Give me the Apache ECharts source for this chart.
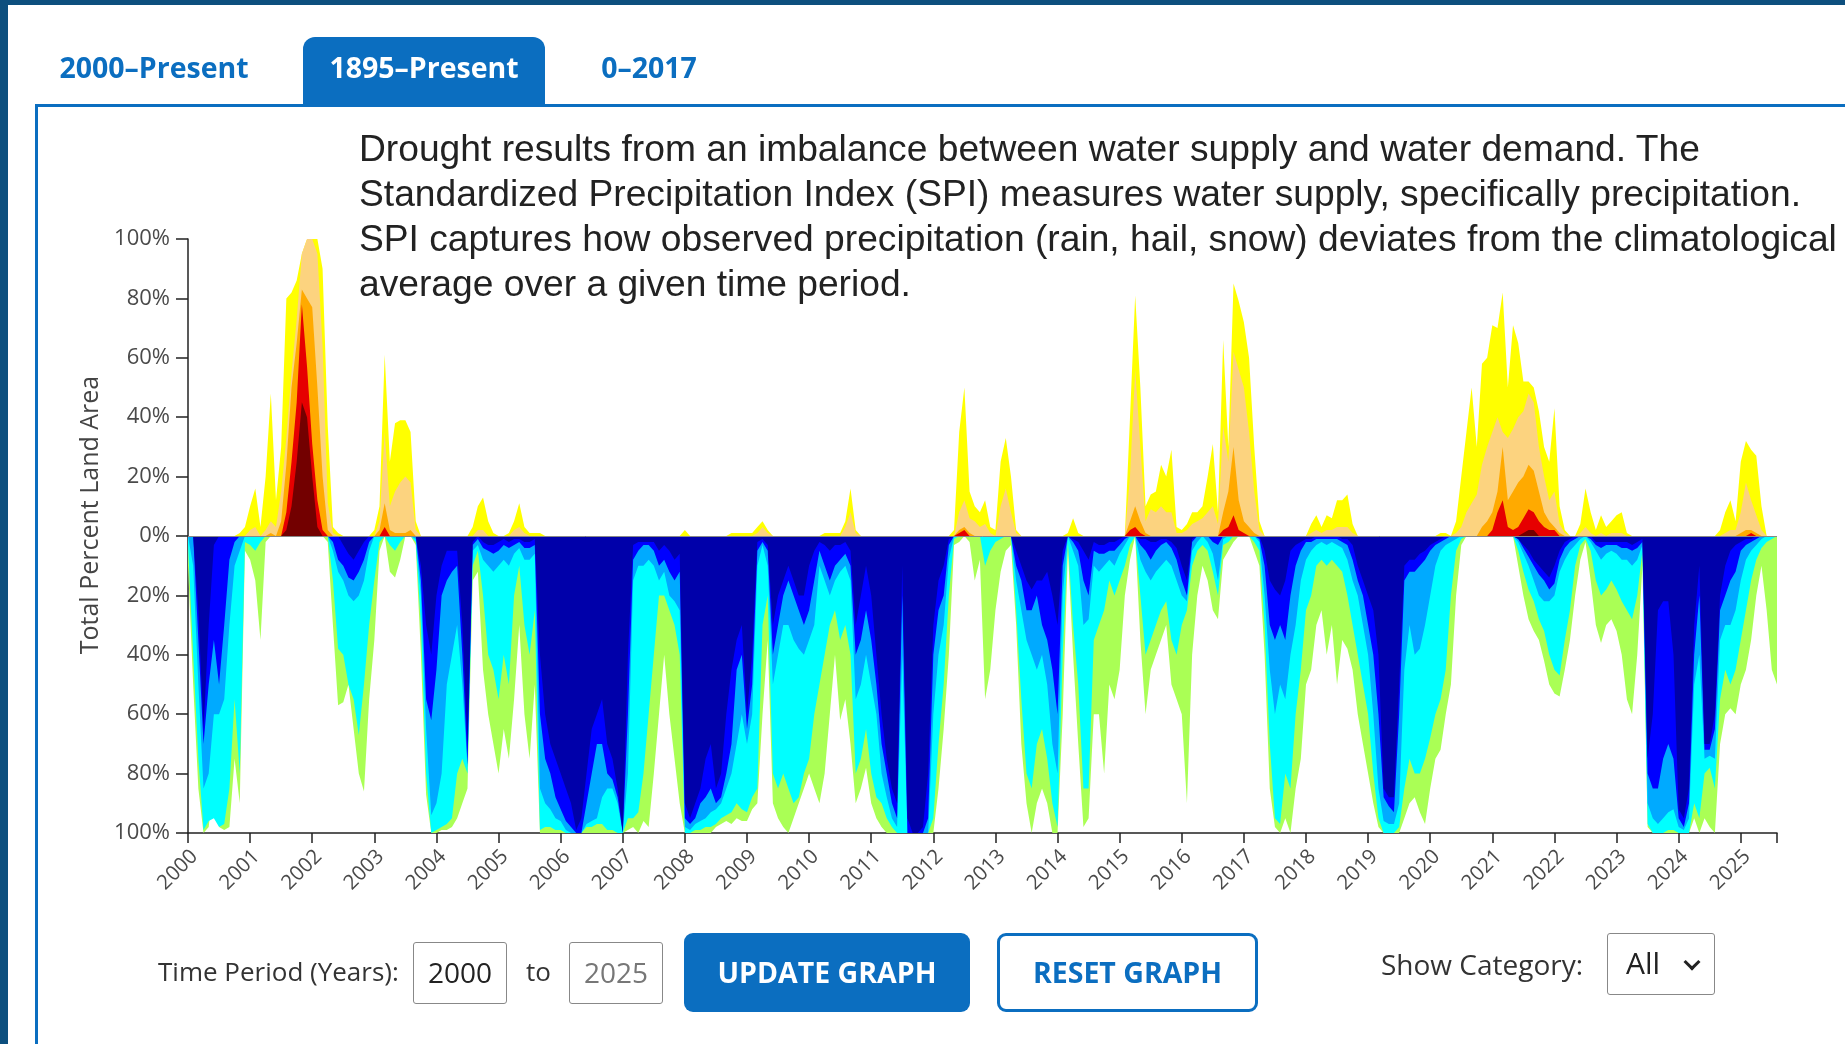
<!DOCTYPE html>
<html>
<head>
<meta charset="utf-8">
<script src="https://cdn.jsdelivr.net/npm/echarts@6/dist/echarts.min.js"></script>
<style>
  html, body { margin: 0; padding: 0; }
  body {
    position: relative;
    width: 1845px;
    height: 1044px;
    overflow: hidden;
    background: #0d4f7e;
    font-family: 'Open Sans', sans-serif;
  }
  .page { position: absolute; left: 8px; top: 5px; right: 0; bottom: 0; background: #fff; }
  .panel {
    position: absolute; left: 35px; top: 104px; right: 0; bottom: 0;
    border-left: 3px solid #0b6ec0; border-top: 3px solid #0b6ec0;
  }
  #chart { position: absolute; left: 0; top: 0; width: 1845px; height: 1044px; }
  .tab {
    position: absolute; top: 37px; height: 67px; line-height: 60px;
    font-size: 28.5px; font-weight: 700; color: #0b6ec0; text-align: center;
  }
  .tab.active { background: #0b6ec0; color: #fff; border-radius: 12px 12px 0 0; }
  .intro {
    position: absolute; left: 359px; top: 126px;
    font-family: 'Liberation Sans', Arial, sans-serif;
    font-size: 37.2px; line-height: 45px; color: #222; white-space: nowrap;
  }
  .ctl { position: absolute; color: #333; }
  .box {
    position: absolute; border: 1.5px solid #888; border-radius: 3px; box-sizing: border-box;
    font-size: 28px; text-align: center; line-height: 58px;
  }
  .btn {
    position: absolute; box-sizing: border-box; border-radius: 9px;
    font-size: 28.5px; font-weight: 700; text-align: center; line-height: 79px;
  }
</style>
</head>
<body>
<div class="page"></div>
<div class="panel"></div>
<div id="chart"></div>

<div class="tab" style="left:52px; width:204px;">2000–Present</div>
<div class="tab active" style="left:303px; width:242px;">1895–Present</div>
<div class="tab" style="left:590px; width:118px;">0–2017</div>

<div class="intro">Drought results from an imbalance between water supply and water demand. The<br>Standardized Precipitation Index (SPI) measures water supply, specifically precipitation.<br>SPI captures how observed precipitation (rain, hail, snow) deviates from the climatological<br>average over a given time period.</div>

<div class="ctl" style="left:158px; top:953px; font-size:26px;">Time Period (Years):</div>
<div class="box" style="left:413px; top:942px; width:94px; height:62px; color:#222;">2000</div>
<div class="ctl" style="left:526px; top:953px; font-size:26px;">to</div>
<div class="box" style="left:569px; top:942px; width:94px; height:62px; color:#777;">2025</div>
<div class="btn" style="left:684px; top:933px; width:286px; height:79px; background:#0b6ec0; color:#fff;">UPDATE GRAPH</div>
<div class="btn" style="left:997px; top:933px; width:261px; height:79px; border:3px solid #0b6ec0; color:#0b6ec0; line-height:73px;">RESET GRAPH</div>
<div class="ctl" style="left:1381px; top:945px; font-size:28px;">Show Category:</div>
<div class="box" style="left:1607px; top:933px; width:108px; height:62px; text-align:left; padding-left:18px; color:#222; font-size:30px;">All
  <span style="position:absolute; right:16px; top:22px; width:9px; height:9px; border-right:3px solid #222; border-bottom:3px solid #222; transform:rotate(45deg);"></span>
</div>

<script>
// monthly values, Jan 2000 .. Aug 2025, one row per year
// dry side (percent of area in category or worse)
const d0 = [
  0,0,0,0,0,0,0,0,0,0,1,3,
  10,16,3,20,48,12,30,80,82,86,95,100,
  100,100,90,37,3,1,0,0,0,0,0,0,
  2,10,61,25,38,39,39,35,5,0,0,0,
  0,0,0,0,0,0,0,3,10,13,5,1,
  0,0,1,5,11,3,1,1,1,0,0,0,
  0,0,0,0,0,0,0,0,0,0,0,0,
  0,0,0,0,0,0,0,0,0,0,0,0,
  2,0,0,0,0,0,0,0,0,1,1,1,
  1,1,3,5,2,0,0,0,0,0,0,0,
  0,0,0,1,1,1,1,5,16,2,0,0,
  0,0,0,0,0,0,0,0,0,0,0,0,
  0,0,0,0,2,35,50,15,10,8,12,3,
  2,25,33,20,2,0,0,0,0,0,0,0,
  0,0,1,6,1,0,0,0,0,0,0,0,
  0,0,40,81,50,10,14,15,24,20,29,3,
  2,4,8,8,10,20,31,8,66,30,85,79,
  72,60,30,5,0,0,0,0,0,0,0,0,
  0,4,7,3,7,6,12,12,14,4,0,0,
  0,0,0,0,0,0,0,0,0,0,0,0,
  0,0,1,1,0,5,20,35,50,30,58,60,
  71,70,82,50,71,65,52,52,50,42,30,25,
  43,10,2,0,0,4,16,8,2,7,3,5,
  7,8,1,0,0,0,0,0,0,0,0,0,
  0,0,0,0,0,0,0,0,2,8,12,5,
  25,32,29,27,10,0,0,0
];
const d1 = [
  0,0,0,0,0,0,0,0,0,0,0,0,
  2,3,0,2,5,3,15,33,55,73,95,100,
  100,95,64,11,1,0,0,0,0,0,0,0,
  0,5,35,10,15,18,20,18,2,0,0,0,
  0,0,0,0,0,0,0,0,2,2,0,0,
  0,0,0,2,3,1,0,0,0,0,0,0,
  0,0,0,0,0,0,0,0,0,0,0,0,
  0,0,0,0,0,0,0,0,0,0,0,0,
  0,0,0,0,0,0,0,0,0,0,0,0,
  0,0,1,3,1,0,0,0,0,0,0,0,
  0,0,0,0,0,0,0,3,8,1,0,0,
  0,0,0,0,0,0,0,0,0,0,0,0,
  0,0,0,0,0,8,12,6,5,3,4,1,
  0,10,16,8,1,0,0,0,0,0,0,0,
  0,0,0,0,0,0,0,0,0,0,0,0,
  0,0,20,56,30,5,9,8,10,8,8,1,
  1,2,4,5,6,8,10,4,37,25,62,56,
  50,35,15,2,0,0,0,0,0,0,0,0,
  0,1,2,1,2,2,3,3,3,1,0,0,
  0,0,0,0,0,0,0,0,0,0,0,0,
  0,0,0,0,0,1,3,8,11,14,24,30,
  35,40,35,33,36,40,42,48,45,30,20,12,
  15,4,1,0,0,1,3,1,0,1,0,1,
  1,1,0,0,0,0,0,0,0,0,0,0,
  0,0,0,0,0,0,0,0,0,1,2,2,
  8,18,12,7,2,0,0,0
];
const d2 = [
  0,0,0,0,0,0,0,0,0,0,0,0,
  0,0,0,0,1,0,5,24,50,65,83,80,
  77,50,20,2,0,0,0,0,0,0,0,0,
  0,2,11,2,1,1,1,2,0,0,0,0,
  0,0,0,0,0,0,0,0,0,0,0,0,
  0,0,0,0,0,0,0,0,0,0,0,0,
  0,0,0,0,0,0,0,0,0,0,0,0,
  0,0,0,0,0,0,0,0,0,0,0,0,
  0,0,0,0,0,0,0,0,0,0,0,0,
  0,0,0,0,0,0,0,0,0,0,0,0,
  0,0,0,0,0,0,0,0,0,0,0,0,
  0,0,0,0,0,0,0,0,0,0,0,0,
  0,0,0,0,0,2,3,1,0,0,0,0,
  0,0,0,0,0,0,0,0,0,0,0,0,
  0,0,0,0,0,0,0,0,0,0,0,0,
  0,0,5,10,5,1,0,0,0,0,0,0,
  0,0,0,0,0,0,0,0,8,15,30,12,
  5,3,1,0,0,0,0,0,0,0,0,0,
  0,0,0,0,0,0,0,0,0,0,0,0,
  0,0,0,0,0,0,0,0,0,0,0,0,
  0,0,0,0,0,0,0,0,0,0,3,5,
  8,15,30,12,15,18,20,24,22,15,8,5,
  3,1,0,0,0,0,0,0,0,0,0,0,
  0,0,0,0,0,0,0,0,0,0,0,0,
  0,0,0,0,0,0,0,0,0,0,0,0,
  1,2,2,1,0,0,0,0
];
const d3 = [
  0,0,0,0,0,0,0,0,0,0,0,0,
  0,0,0,0,0,0,0,8,25,45,78,57,
  31,12,2,0,0,0,0,0,0,0,0,0,
  0,0,3,0,0,0,0,0,0,0,0,0,
  0,0,0,0,0,0,0,0,0,0,0,0,
  0,0,0,0,0,0,0,0,0,0,0,0,
  0,0,0,0,0,0,0,0,0,0,0,0,
  0,0,0,0,0,0,0,0,0,0,0,0,
  0,0,0,0,0,0,0,0,0,0,0,0,
  0,0,0,0,0,0,0,0,0,0,0,0,
  0,0,0,0,0,0,0,0,0,0,0,0,
  0,0,0,0,0,0,0,0,0,0,0,0,
  0,0,0,0,0,1,2,0,0,0,0,0,
  0,0,0,0,0,0,0,0,0,0,0,0,
  0,0,0,0,0,0,0,0,0,0,0,0,
  0,0,2,3,1,0,0,0,0,0,0,0,
  0,0,0,0,0,0,0,0,2,3,7,2,
  1,0,0,0,0,0,0,0,0,0,0,0,
  0,0,0,0,0,0,0,0,0,0,0,0,
  0,0,0,0,0,0,0,0,0,0,0,0,
  0,0,0,0,0,0,0,0,0,0,0,0,
  2,8,12,3,2,3,6,9,8,5,3,2,
  2,0,0,0,0,0,0,0,0,0,0,0,
  0,0,0,0,0,0,0,0,0,0,0,0,
  0,0,0,0,0,0,0,0,0,0,0,0,
  0,0,1,0,0,0,0,0
];
const d4 = [
  0,0,0,0,0,0,0,0,0,0,0,0,
  0,0,0,0,0,0,0,2,10,25,45,40,
  20,3,0,0,0,0,0,0,0,0,0,0,
  0,0,0,0,0,0,0,0,0,0,0,0,
  0,0,0,0,0,0,0,0,0,0,0,0,
  0,0,0,0,0,0,0,0,0,0,0,0,
  0,0,0,0,0,0,0,0,0,0,0,0,
  0,0,0,0,0,0,0,0,0,0,0,0,
  0,0,0,0,0,0,0,0,0,0,0,0,
  0,0,0,0,0,0,0,0,0,0,0,0,
  0,0,0,0,0,0,0,0,0,0,0,0,
  0,0,0,0,0,0,0,0,0,0,0,0,
  0,0,0,0,0,0,0,0,0,0,0,0,
  0,0,0,0,0,0,0,0,0,0,0,0,
  0,0,0,0,0,0,0,0,0,0,0,0,
  0,0,0,0,0,0,0,0,0,0,0,0,
  0,0,0,0,0,0,0,0,0,0,0,0,
  0,0,0,0,0,0,0,0,0,0,0,0,
  0,0,0,0,0,0,0,0,0,0,0,0,
  0,0,0,0,0,0,0,0,0,0,0,0,
  0,0,0,0,0,0,0,0,0,0,0,0,
  0,0,0,0,0,0,1,2,2,0,0,0,
  0,0,0,0,0,0,0,0,0,0,0,0,
  0,0,0,0,0,0,0,0,0,0,0,0,
  0,0,0,0,0,0,0,0,0,0,0,0,
  0,0,0,0,0,0,0,0
];

// wet side (percent of area in category or wetter), drawn below zero
const w0 = [
  10,50,85,100,98,82,98,99,98,75,90,5,
  8,15,35,2,0,0,0,0,0,0,0,0,
  0,0,0,2,30,57,56,50,65,80,86,55,
  35,5,0,12,14,8,0,0,3,40,87,100,
  100,99,99,98,95,90,85,15,12,45,60,70,
  80,65,75,55,30,60,75,50,100,100,100,100,
  100,100,100,100,100,100,100,100,100,100,100,100,
  100,99,98,100,96,98,80,60,40,60,75,90,
  100,100,100,100,100,100,98,97,96,97,95,96,
  96,92,90,60,35,90,95,98,100,95,90,85,
  80,85,90,80,60,40,62,55,70,90,85,78,
  90,95,98,100,100,100,100,100,100,100,100,100,
  100,85,65,40,3,2,0,2,15,8,55,45,
  25,12,5,3,30,70,90,100,90,85,90,100,
  100,60,5,40,70,98,95,60,60,80,50,55,
  45,20,8,0,35,60,45,40,35,30,50,55,
  60,90,40,20,10,15,25,28,8,5,2,0,
  0,0,5,10,40,85,98,100,95,100,85,75,
  50,45,30,25,40,30,50,35,38,45,60,70,
  80,90,98,100,100,100,100,95,90,88,93,97,
  85,75,72,60,50,20,3,0,0,0,0,0,
  0,0,0,0,0,10,20,28,32,35,42,50,
  53,54,45,35,20,8,2,15,30,36,30,28,
  32,40,55,60,40,10,98,100,100,100,100,100,
  100,100,100,95,100,95,98,100,70,60,58,60,
  50,45,35,20,10,25,45,50
];
const w1 = [
  3,40,75,99,96,95,98,97,85,55,80,2,
  3,5,2,0,0,0,0,0,0,0,0,0,
  0,0,0,0,15,38,40,50,55,67,50,30,
  15,2,0,3,5,2,0,0,2,30,80,100,
  99,98,97,95,80,75,80,10,5,20,40,45,
  55,40,50,20,10,30,40,25,99,98,98,99,
  99,100,100,100,100,98,98,97,97,99,99,100,
  100,95,95,93,80,60,40,20,20,25,30,40,
  100,100,99,99,98,98,97,95,94,93,90,92,
  93,88,85,30,20,80,85,80,85,90,88,80,
  75,60,50,40,30,25,35,30,40,80,75,65,
  80,88,90,95,98,100,100,100,100,100,100,100,
  95,70,50,20,1,0,0,0,0,0,10,5,
  2,1,0,0,25,55,80,85,70,65,75,90,
  98,40,2,30,50,85,85,35,30,25,15,20,
  15,10,3,0,20,40,35,30,25,22,35,40,
  30,25,10,5,3,5,12,20,3,2,0,0,
  0,0,2,5,30,70,95,97,80,85,60,45,
  25,20,10,8,10,8,10,12,20,30,40,50,
  60,80,95,100,100,100,98,85,75,80,80,75,
  68,60,55,45,20,5,1,0,0,0,0,0,
  0,0,0,0,0,5,12,18,22,28,32,40,
  45,47,35,25,10,3,1,5,15,20,18,15,
  18,22,25,28,20,5,97,100,100,100,99,99,
  100,100,100,90,95,80,78,85,55,45,50,45,
  35,25,15,8,4,2,1,0
];
const w2 = [
  0,10,50,85,80,60,60,55,30,10,5,0,
  0,0,0,0,0,0,0,0,0,0,0,0,
  0,0,0,0,5,12,15,20,22,20,15,5,
  0,0,0,0,0,0,0,0,1,20,65,94,
  90,80,50,40,30,50,78,5,3,8,10,12,
  10,8,10,6,4,8,8,6,85,90,92,95,
  96,99,100,100,100,97,96,95,88,85,85,90,
  100,80,15,10,10,8,10,15,12,20,22,25,
  98,99,97,96,95,93,92,90,85,80,70,60,
  70,60,10,3,10,50,40,30,30,35,38,40,
  35,30,10,15,20,15,12,10,15,55,50,40,
  50,60,80,88,95,98,40,100,100,100,100,100,
  60,40,30,8,0,0,0,0,0,0,0,0,
  0,0,0,0,15,25,35,40,45,40,50,70,
  80,20,0,5,10,30,28,10,12,10,8,10,
  6,3,0,0,8,12,15,12,10,8,10,15,
  20,22,5,2,0,2,6,15,1,0,0,0,
  0,0,0,2,20,45,60,50,55,40,30,15,
  8,5,3,2,3,2,3,4,8,15,20,30,
  40,60,85,96,97,97,90,45,30,40,38,30,
  20,10,5,3,2,1,0,0,0,0,0,0,
  0,0,0,0,0,2,6,10,15,20,22,22,
  20,12,8,5,3,1,0,2,5,8,6,5,
  6,8,8,10,8,3,90,95,97,95,93,92,
  98,99,95,50,40,75,74,75,35,30,30,25,
  15,8,5,3,1,0,0,0
];
const w3 = [
  0,0,35,70,50,35,50,30,8,2,0,0,
  0,0,0,0,0,0,0,0,0,0,0,0,
  0,0,0,0,2,8,10,14,15,12,8,2,
  0,0,0,0,0,0,0,0,0,15,55,62,
  45,20,15,12,10,40,77,3,1,4,5,6,
  5,3,4,3,2,4,4,3,60,75,80,88,
  92,96,98,100,100,90,80,70,70,80,82,88,
  100,60,8,5,3,3,5,10,8,12,15,12,
  95,97,95,90,88,85,90,88,80,70,45,40,
  65,50,5,2,5,40,30,20,15,20,25,30,
  25,15,5,10,15,10,8,6,10,40,35,25,
  35,50,70,80,90,95,20,100,100,100,100,95,
  40,25,20,3,0,0,0,0,0,0,0,0,
  0,0,0,0,10,15,25,25,20,30,35,45,
  60,10,0,2,5,15,20,5,6,6,5,5,
  3,1,0,0,3,5,8,5,3,2,4,8,
  15,20,2,0,0,0,2,3,0,0,0,0,
  0,0,0,1,10,30,35,30,35,20,10,5,
  2,2,1,1,1,1,1,2,3,8,15,20,
  30,40,60,88,91,93,60,15,12,12,10,8,
  5,3,2,1,0,0,0,0,0,0,0,0,
  0,0,0,0,0,1,4,7,10,13,15,18,
  16,8,4,2,1,0,0,1,3,4,3,3,
  3,4,4,5,4,2,80,85,85,75,70,75,
  95,98,90,40,20,72,72,65,25,20,15,12,
  5,3,2,1,0,0,0,0
];
const w4 = [
  0,0,25,65,30,3,0,0,0,0,0,0,
  0,0,0,0,0,0,0,0,0,0,0,0,
  0,0,0,0,0,0,3,6,8,5,2,0,
  0,0,0,0,0,0,0,0,0,10,30,40,
  20,10,5,5,5,30,70,2,0,2,3,3,
  2,1,2,1,1,2,2,1,40,60,70,75,
  80,85,90,99,95,80,65,60,55,70,75,85,
  100,40,3,2,2,2,2,5,3,5,8,6,
  90,95,90,85,75,70,85,80,60,45,35,30,
  60,40,2,1,3,30,20,15,10,15,20,20,
  10,5,2,3,5,3,3,2,5,30,20,10,
  20,40,60,75,85,90,10,95,100,100,98,80,
  30,15,10,1,0,0,0,0,0,0,0,0,
  0,0,0,0,5,10,15,18,15,15,12,20,
  30,5,0,1,2,5,8,2,3,3,2,2,
  1,0,0,0,1,1,2,2,1,1,2,4,
  10,15,1,0,0,0,0,0,0,0,0,0,
  0,0,0,0,5,15,18,20,15,5,3,2,
  1,1,0,0,0,0,0,1,1,3,10,15,
  20,25,40,85,88,88,50,10,8,8,6,5,
  3,2,1,0,0,0,0,0,0,0,0,0,
  0,0,0,0,0,1,3,5,8,10,12,14,
  10,5,2,1,0,0,0,0,2,2,2,2,
  2,2,2,3,2,1,75,60,25,22,22,40,
  92,95,85,30,10,70,70,60,20,10,5,3,
  2,1,1,0,0,0,0,0
];

const startYear = 2000;
const months = [];
for (let i = 0; i < d0.length; i++) {
  const y = startYear + Math.floor(i / 12);
  const m = (i % 12) + 1;
  months.push(y + '-' + (m < 10 ? '0' + m : m));
}

const dryColors = ['#FFFF00', '#FCD37F', '#FFAA00', '#E60000', '#730000'];
const wetColors = ['#AAFF55', '#00FFFF', '#00AAFF', '#0000FF', '#0000AA'];
const dryNames = ['D0', 'D1', 'D2', 'D3', 'D4'];
const wetNames = ['W0', 'W1', 'W2', 'W3', 'W4'];

const areaSeries = (name, data, color) => ({
  name: name,
  type: 'line',
  data: data,
  symbol: 'none',
  lineStyle: { width: 0 },
  areaStyle: { color: color, opacity: 1 },
  silent: true,
});

const series = [];
[d0, d1, d2, d3, d4].forEach((arr, k) => {
  series.push(areaSeries(dryNames[k], arr, dryColors[k]));
});
[w0, w1, w2, w3, w4].forEach((arr, k) => {
  series.push(areaSeries(wetNames[k], arr.map(v => -v), wetColors[k]));
});
// grey line at 0%
series[series.length - 1].markLine = {
  silent: true,
  symbol: 'none',
  label: { show: false },
  lineStyle: { color: '#888', width: 1, type: 'solid' },
  data: [{ yAxis: 0 }],
};

const axisColor = '#222';
const labelColor = '#4a4a4a';

const chart = echarts.init(document.getElementById('chart'));
chart.setOption({
  animation: false,
  grid: { left: 188, right: 68, top: 239, bottom: 211 },
  xAxis: {
    type: 'category',
    data: months,
    boundaryGap: false,
    axisLine: { onZero: false, lineStyle: { color: axisColor, width: 1.5 } },
    axisTick: {
      interval: (i) => i % 12 === 0 || i === months.length - 1,
      length: 10,
      lineStyle: { color: axisColor, width: 1.5 },
    },
    axisLabel: {
      interval: (i) => i % 12 === 0,
      rotate: 45,
      formatter: (v) => '{yr|' + v.slice(0, 4) + '}',
      rich: {
        yr: {
          color: labelColor,
          fontFamily: 'Open Sans',
          fontSize: 20.5,
          padding: [18, 0, 0, 0],
        },
      },
      margin: 14,
    },
    splitLine: { show: false },
  },
  yAxis: {
    type: 'value',
    min: -100,
    max: 100,
    interval: 20,
    name: 'Total Percent Land Area',
    nameLocation: 'middle',
    nameGap: 84,
    nameTextStyle: { color: '#444', fontFamily: 'Open Sans', fontSize: 25, padding: [0, 0, 0, 42] },
    axisLine: { show: true, lineStyle: { color: axisColor, width: 1.5 } },
    axisTick: { show: true, length: 12, lineStyle: { color: axisColor, width: 1.5 } },
    axisLabel: {
      formatter: (v) => Math.abs(v) + '%',
      color: labelColor,
      fontFamily: 'Open Sans',
      fontSize: 22,
      margin: 18,
    },
    splitLine: { show: false },
  },
  series: series,
});
</script>
</body>
</html>
